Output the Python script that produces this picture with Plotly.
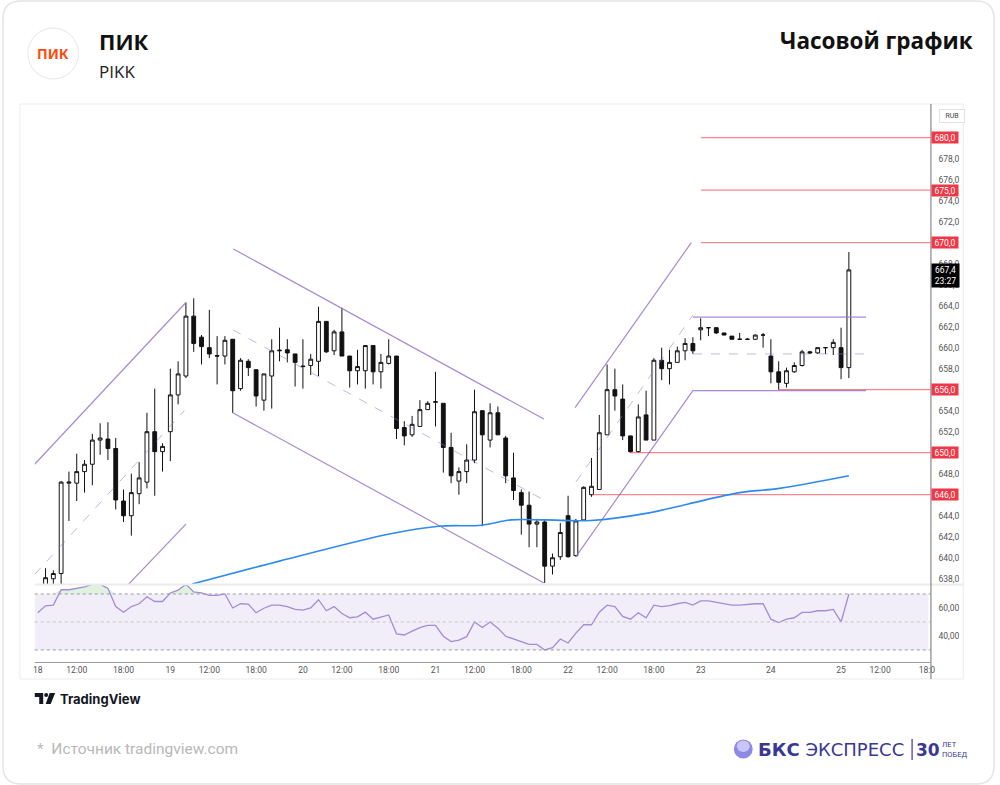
import plotly.graph_objects as go

W, H = 1000, 785

# ---------------- DATA ----------------
bars = list(range(0, 105))
opens = [636.6, 637.2, 638.0, 638.5, 647.1, 647.1, 648.2, 648.9, 651.2, 651.3,
         650.4, 645.4, 644.0, 646.1, 647.2, 652.0, 650.1, 652.0, 655.5, 657.3,
         663.0, 661.0, 660.0, 659.25, 659.2, 660.8, 656.1, 658.7, 657.9, 655.0,
         657.3, 659.7, 659.8, 659.4, 658.25, 658.3, 658.7, 662.5, 659.7, 661.5,
         659.2, 657.8, 657.8, 660.2, 657.7, 658.5, 659.2, 652.4, 651.7, 652.5,
         654.1, 654.8, 654.7, 650.5, 647.3, 648.2, 649.3, 654.0, 651.2, 653.8,
         651.4, 647.6, 646.2, 645.0, 643.2, 643.4, 639.2, 640.1, 644.0, 640.2,
         643.6, 646.0, 646.5, 651.7, 656.0, 655.1, 651.6, 650.1, 653.6, 651.2,
         658.8, 658.0, 658.6, 659.7, 660.4, 661.7, 661.9, 661.9, 661.4, 661.1,
         660.8, 660.8, 660.8, 661.2, 659.2, 657.7, 656.6, 657.7, 658.3, 659.6,
         659.5, 660.0, 660.0, 660.0, 658.1]
highs = [637.4, 639.0, 638.8, 647.3, 648.2, 649.9, 649.3, 651.8, 652.8, 652.9,
         651.4, 646.5, 648.0, 649.1, 653.8, 656.1, 650.9, 658.0, 658.7, 664.3,
         664.7, 661.2, 663.6, 661.1, 661.1, 660.8, 659.0, 658.9, 657.9, 657.5,
         660.8, 661.9, 660.8, 659.4, 660.8, 659.4, 663.9, 662.5, 661.7, 663.8,
         659.2, 659.8, 660.2, 660.2, 659.4, 660.8, 659.2, 653.0, 653.5, 655.0,
         654.9, 657.7, 654.7, 651.9, 648.6, 650.8, 656.0, 654.0, 654.7, 654.4,
         651.6, 650.0, 646.5, 646.3, 643.7, 643.6, 640.4, 643.3, 645.9, 643.7,
         646.8, 649.5, 653.6, 658.4, 658.0, 656.5, 651.6, 654.6, 655.9, 659.0,
         660.0, 659.8, 660.1, 660.9, 661.0, 662.8, 661.95, 661.95, 661.4, 661.1,
         661.4, 660.9, 661.25, 661.4, 660.8, 658.7, 658.1, 658.6, 659.8, 659.7,
         660.0, 660.0, 660.8, 661.9, 669.1]
lows = [636.3, 636.9, 637.2, 637.3, 643.5, 645.4, 646.2, 646.9, 649.8, 649.3,
        644.6, 643.4, 642.1, 645.1, 646.6, 645.9, 648.2, 649.2, 654.6, 657.1,
        659.6, 658.4, 659.0, 656.5, 658.4, 653.8, 655.9, 657.3, 654.4, 654.0,
        654.2, 658.7, 658.6, 656.3, 656.1, 657.4, 657.3, 659.5, 659.3, 659.2,
        656.2, 656.5, 656.1, 656.5, 656.1, 658.4, 651.3, 650.7, 651.5, 652.5,
        654.1, 652.5, 648.1, 647.1, 646.0, 647.1, 649.0, 643.0, 650.5, 651.7,
        647.1, 645.5, 642.2, 641.0, 641.0, 637.6, 638.4, 639.8, 640.0, 640.1,
        643.6, 645.8, 646.5, 651.7, 654.0, 651.2, 650.0, 650.0, 651.2, 651.2,
        656.9, 656.5, 658.6, 658.8, 659.4, 660.7, 661.1, 661.3, 661.2, 660.8,
        660.8, 660.8, 660.75, 660.0, 656.6, 656.0, 656.2, 657.6, 658.2, 659.4,
        659.4, 659.4, 659.3, 657.0, 657.1]
closes = [637.2, 638.1, 638.5, 647.2, 647.2, 648.2, 648.9, 651.2, 651.4, 650.4,
          645.5, 644.0, 646.2, 647.6, 652.0, 650.1, 650.6, 655.5, 657.5, 663.0,
          660.4, 660.1, 659.4, 659.2, 660.7, 655.9, 658.8, 658.1, 655.4, 657.5,
          659.7, 659.75, 659.5, 658.6, 658.2, 658.9, 662.5, 659.6, 661.5, 659.2,
          657.8, 658.2, 660.2, 657.7, 658.6, 659.2, 652.3, 651.6, 652.7, 654.1,
          654.7, 654.85, 650.5, 647.8, 648.2, 649.3, 653.9, 651.7, 653.8, 651.7,
          647.8, 646.4, 645.0, 643.2, 643.4, 639.2, 640.0, 642.4, 640.1, 643.5,
          646.7, 646.8, 651.9, 656.0, 655.4, 651.6, 650.1, 653.4, 651.2, 658.8,
          658.0, 658.6, 659.7, 660.4, 659.7, 661.9, 661.9, 661.4, 661.2, 660.8,
          660.8, 660.8, 661.2, 661.2, 657.7, 656.7, 657.8, 658.3, 659.6, 659.5,
          660.0, 660.0, 660.5, 658.1, 667.4]

rsi = [56.6, 61.5, 62, 73, 73, 74, 75, 77, 77, 74,
       61, 57, 61, 63, 68, 64.6, 64.6, 70.7, 72.7, 77,
       71.5, 70.7, 69, 69, 70, 60, 63, 62.7, 56.6, 59.8,
       62, 62, 61, 59, 58.5, 60, 65.9, 58, 61, 56,
       53, 53.7, 57, 52, 53.7, 55, 41.5, 40.7, 43.4, 46,
       47.6, 47.6, 39.8, 36, 37, 39.5, 50, 46, 50, 45.6,
       39.8, 37.8, 36, 34, 34, 30, 31.7, 37.8, 35, 42,
       48, 48, 57, 62, 61, 54, 52, 56.6, 53, 62,
       61, 61.7, 63, 64, 62, 65, 65, 64, 63.4, 62,
       62, 62.7, 63, 63, 52, 49.5, 52, 53, 56.8, 56.8,
       58, 58, 59, 50, 70]

ma_bars = [19.8, 28.5, 31.1, 45.1, 51.4, 56.9, 60.7, 65.1, 70.9, 78.2, 83.3, 90.0, 95.1, 104.0]
ma_vals = [637.5, 639.2, 639.7, 642.26, 643.0, 643.1, 643.6, 643.6, 643.55, 644.25, 645.1, 646.2, 646.6, 647.8]

tick_bars = [0, 5, 11, 17, 22, 28, 34, 39, 45, 51, 56, 62, 68, 73, 79, 85, 94, 103, 108, 114]
tick_text = ["18", "12:00", "18:00", "19", "12:00", "18:00", "20", "12:00", "18:00", "21",
             "12:00", "18:00", "22", "12:00", "18:00", "23", "24", "25", "12:00", "18:0"]

# price labels visible on the axis (the others are hidden under the level labels)
price_ticks = [638, 640, 642, 644, 648, 652, 654, 658, 660, 662, 664, 666, 668,
               672, 674, 676, 678]

# drawn tools (bar index, price)
ch1_upper = [(-0.4, 648.9), (19.0, 664.3)]
ch1_lower = [(11.55, 637.4), (19.0, 643.2)]
ch1_mid = [(-0.4, 638.4), (18.8, 654.0)]
ch2_upper = [(25.08, 669.4), (64.9, 653.2)]
ch2_lower = [(25.0, 653.8), (64.9, 637.6)]
ch2_mid = [(25.0, 661.7), (64.9, 645.5)]
ch3_upper = [(68.9, 654.3), (83.8, 670.0)]
ch3_lower = [(69.0, 640.1), (84.0, 655.9), (106.2, 655.9)]
ch3_mid = [(69.0, 647.2), (84.0, 663.1)]
box_top = [(84.0, 662.9), (106.2, 662.9)]
box_mid = [(84.0, 659.4), (106.2, 659.4)]

level_prices = [680, 675, 670, 656, 650, 646]
level_start = [85.05, 85.05, 85.05, 95.0, 75.9, 71.05]
last_price = 667.4
timer_text = "23:27"

# ---------------- LAYOUT GEOMETRY ----------------
X_L, X_R = 33, 935
MAIN_T, MAIN_B = 105, 584
RSI_T, RSI_B = 585, 662
XR = [-0.38, 114.46]
YR = [637.5, 683.1]
RR = [21.4, 76.4]


def px(x):
    return x / W


def py(y):
    return 1 - y / H


fig = go.Figure()

fig.add_trace(go.Candlestick(
    x=bars, open=opens, high=highs, low=lows, close=closes,
    increasing=dict(line=dict(color="#111111", width=1), fillcolor="#ffffff"),
    decreasing=dict(line=dict(color="#111111", width=1), fillcolor="#111111"),
    whiskerwidth=0, showlegend=False, hoverinfo="skip", xaxis="x", yaxis="y"))

PURPLE = "rgba(149,117,205,0.85)"
PURPLE_D = "rgba(149,117,205,0.55)"


def add_line(pts, color, dash="solid", width=1.2):
    fig.add_trace(go.Scatter(x=[p[0] for p in pts], y=[p[1] for p in pts], mode="lines",
                             line=dict(color=color, width=width, dash=dash),
                             showlegend=False, hoverinfo="skip", xaxis="x", yaxis="y"))


for pts in [ch1_upper, ch1_lower, ch2_upper, ch2_lower, ch3_upper, ch3_lower, box_top]:
    add_line(pts, PURPLE)
for pts in [ch1_mid, ch2_mid, ch3_mid, box_mid]:
    add_line(pts, PURPLE_D, dash="dash", width=1)

for p, s in zip(level_prices, level_start):
    add_line([(s, p), (XR[1], p)], "rgba(242,54,69,0.6)", width=1.2)

fig.add_trace(go.Scatter(x=ma_bars, y=ma_vals, mode="lines", line=dict(color="#2f89f2", width=1.6, shape="spline"),
                         showlegend=False, hoverinfo="skip", xaxis="x", yaxis="y"))

# RSI
fig.add_trace(go.Scatter(x=bars, y=[70] * len(bars), mode="lines", line=dict(width=0),
                         showlegend=False, hoverinfo="skip", xaxis="x2", yaxis="y2"))
fig.add_trace(go.Scatter(x=bars, y=[max(v, 70) for v in rsi], mode="lines", line=dict(width=0),
                         fill="tonexty", fillcolor="rgba(76,175,80,0.18)",
                         showlegend=False, hoverinfo="skip", xaxis="x2", yaxis="y2"))
fig.add_trace(go.Scatter(x=bars, y=rsi, mode="lines", line=dict(color="#a48bd6", width=1.3),
                         showlegend=False, hoverinfo="skip", xaxis="x2", yaxis="y2"))

shapes = []
# card
r = 18
x0c, y0c, x1c, y1c = 1, 1, 999, 784
path = (f"M {px(x0c)},{py(y0c + r)} Q {px(x0c)},{py(y0c)} {px(x0c + r)},{py(y0c)} "
        f"L {px(x1c - r)},{py(y0c)} Q {px(x1c)},{py(y0c)} {px(x1c)},{py(y0c + r)} "
        f"L {px(x1c)},{py(y1c - r)} Q {px(x1c)},{py(y1c)} {px(x1c - r)},{py(y1c)} "
        f"L {px(x0c + r)},{py(y1c)} Q {px(x0c)},{py(y1c)} {px(x0c)},{py(y1c - r)} Z")
shapes.append(dict(type="path", xref="paper", yref="paper", path=path,
                   line=dict(color="#e4e4e4", width=1.5), fillcolor="rgba(0,0,0,0)", layer="below"))
# widget border
shapes.append(dict(type="rect", xref="paper", yref="paper", x0=px(18), x1=px(968), y0=py(104), y1=py(679),
                   line=dict(color="#ececec", width=1)))
# rsi band
shapes.append(dict(type="rect", xref="paper", yref="y2", x0=px(X_L), x1=px(X_R - 2), y0=30, y1=70,
                   fillcolor="rgba(126,87,194,0.1)", line=dict(width=0), layer="below"))
for lv, col in [(70, "#9a9a9a"), (50, "#c4c4c4"), (30, "#9a9a9a")]:
    shapes.append(dict(type="line", xref="paper", yref="y2", x0=px(X_L), x1=px(X_R), y0=lv, y1=lv,
                       line=dict(color=col, width=1, dash="dot")))
# pane separator
shapes.append(dict(type="line", xref="paper", yref="paper", x0=px(X_L), x1=px(968), y0=py(584.5), y1=py(584.5),
                   line=dict(color="#ececec", width=2)))
# price axis line
shapes.append(dict(type="line", xref="paper", yref="paper", x0=px(935.5), x1=px(935.5), y0=py(104), y1=py(679),
                   line=dict(color="#707070", width=1)))
# logo circle
shapes.append(dict(type="circle", xref="paper", yref="paper", x0=px(26), x1=px(77), y0=py(28), y1=py(79),
                   line=dict(color="#e6e6e6", width=1), fillcolor="white"))
# TradingView logo
shapes.append(dict(type="path", xref="paper", yref="paper",
                   path=f"M {px(33)},{py(693)} L {px(41.5)},{py(693)} L {px(41.5)},{py(704)} L {px(37.5)},{py(704)} "
                        f"L {px(37.5)},{py(697)} L {px(33)},{py(697)} Z",
                   fillcolor="#131722", line=dict(width=0)))
shapes.append(dict(type="circle", xref="paper", yref="paper", x0=px(42.5), x1=px(46.5), y0=py(693), y1=py(697),
                   fillcolor="#131722", line=dict(width=0)))
shapes.append(dict(type="path", xref="paper", yref="paper",
                   path=f"M {px(48)},{py(693)} L {px(53.5)},{py(693)} L {px(49)},{py(704)} L {px(44)},{py(704)} Z",
                   fillcolor="#131722", line=dict(width=0)))
# BKS logo sphere
shapes.append(dict(type="circle", xref="paper", yref="paper", x0=px(737), x1=px(756), y0=py(739.5), y1=py(758.5),
                   fillcolor="#8f88e6", line=dict(width=0)))
shapes.append(dict(type="circle", xref="paper", yref="paper", x0=px(740), x1=px(753), y0=py(740.5), y1=py(752),
                   fillcolor="#c9c5f5", line=dict(width=0)))
shapes.append(dict(type="line", xref="paper", yref="paper", x0=px(916.5), x1=px(916.5), y0=py(739), y1=py(760),
                   line=dict(color="#3b3796", width=1.2)))

BKS = "#3b3796"
ann = []
ann.append(dict(x=px(51.5), y=py(54), text="<b>ПИК</b>", font=dict(family="Noto Sans", size=14, color="#ff4a0d")))
ann.append(dict(x=px(96), y=py(41), text="<b>ПИК</b>", xanchor="left",
                font=dict(family="Open Sans", size=22, color="#111")))
ann.append(dict(x=px(96), y=py(72), text="PIKK", xanchor="left",
                font=dict(family="Open Sans", size=17, color="#222")))
ann.append(dict(x=px(980), y=py(41), text="<b>Часовой график</b>", xanchor="right",
                font=dict(family="Open Sans", size=22.5, color="#111")))
ann.append(dict(x=px(56), y=py(699), text="<b>TradingView</b>", xanchor="left",
                font=dict(family="Inter", size=13, color="#131722")))
ann.append(dict(x=px(33), y=py(749), text="*  Источник tradingview.com", xanchor="left",
                font=dict(family="Roboto", size=15.5, color="#b8b8b8")))
ann.append(dict(x=px(759), y=py(749.5), text="<b>БКС</b> ЭКСПРЕСС", xanchor="left",
                font=dict(family="DejaVu Sans", size=18, color=BKS)))
ann.append(dict(x=px(918), y=py(749.5), text="<b>30</b>", xanchor="left",
                font=dict(family="DejaVu Sans", size=17, color=BKS)))
ann.append(dict(x=px(945), y=py(749.5), text="ЛЕТ<br>ПОБЕД", xanchor="left", align="left",
                font=dict(family="Roboto", size=7.5, color=BKS)))
# RUB box
ann.append(dict(x=px(956.5), y=py(116), text="RUB", font=dict(family="Roboto", size=7, color="#444"),
                bgcolor="white", bordercolor="#e2e2e2", borderwidth=1, borderpad=2, width=20))
# level labels
for p in level_prices:
    ann.append(dict(x=px(950), y=p, yref="y", text=f"{p:.1f}".replace(".", ","),
                    font=dict(family="Roboto", size=8.5, color="white"), bgcolor="#f23645",
                    width=25, height=10, borderpad=0.5))
ann.append(dict(x=px(950), y=py(263), yanchor="top",
                text=f"{last_price:.1f}".replace(".", ",") + "<br>" + timer_text,
                font=dict(family="Roboto", size=8.5, color="white"), bgcolor="#000000",
                width=25, borderpad=1))

for a in ann:
    a.setdefault("xref", "paper")
    a.setdefault("yref", "paper")
    a.setdefault("xanchor", "center")
    a.setdefault("yanchor", "middle")
    a.setdefault("showarrow", False)

axis_font = dict(family="Roboto", size=8.5, color="#555")
fig.update_layout(
    width=W, height=H, margin=dict(l=0, r=0, t=0, b=0),
    paper_bgcolor="white", plot_bgcolor="white", showlegend=False,
    shapes=shapes, annotations=ann,
    xaxis=dict(domain=[px(X_L), px(X_R)], range=XR, anchor="y", showticklabels=False, showgrid=False,
               zeroline=False, rangeslider=dict(visible=False), fixedrange=True),
    xaxis2=dict(domain=[px(X_L), px(X_R)], range=XR, anchor="y2", showgrid=False, zeroline=False,
                tickmode="array", tickvals=tick_bars, ticktext=tick_text, ticks="", tickfont=axis_font,
                showline=True, linecolor="#9a9a9a", linewidth=1),
    yaxis=dict(domain=[py(MAIN_B), py(MAIN_T)], range=YR, anchor="x", side="right", showgrid=False,
               zeroline=False, tickmode="array", tickvals=price_ticks,
               ticktext=[f"{v:.1f}".replace(".", ",") for v in price_ticks],
               ticks="", tickfont=axis_font, ticklabelstandoff=7),
    yaxis2=dict(domain=[py(RSI_B), py(RSI_T)], range=RR, anchor="x2", side="right", showgrid=False,
                zeroline=False, tickmode="array", tickvals=[40, 60], ticktext=["40,00", "60,00"],
                ticks="", tickfont=axis_font, ticklabelstandoff=7),
)

fig.write_html("out.html")
